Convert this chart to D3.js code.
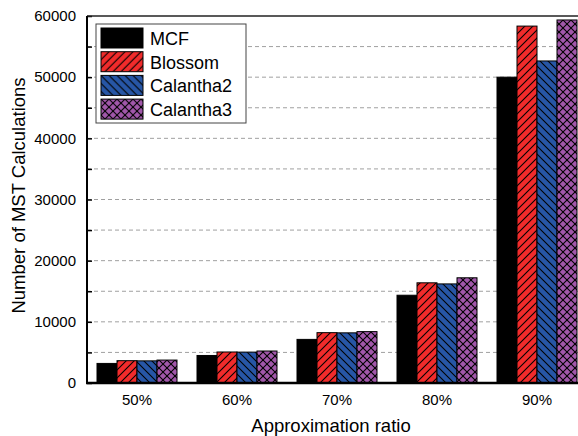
<!DOCTYPE html>
<html>
<head>
<meta charset="utf-8">
<script src="https://cdn.jsdelivr.net/npm/d3@7"></script>
<style>
  body { margin: 0; background: #fff; }
  text { font-family: Arial, "Liberation Sans", sans-serif; fill: #000; }
</style>
</head>
<body>
<div id="plotdiv"></div>
<script>
// Size of the figure
var outerWidth = 578;
var outerHeight = 436;
// Plot area runs past the right edge, like the original
var margin = { left: 87, top: 16, right: -9, bottom: 53 };
var innerWidth  = outerWidth  - margin.left - margin.right;
var innerHeight = outerHeight - margin.top  - margin.bottom;
var fontStack = "Arial, 'Liberation Sans', sans-serif";

// Data
var ratios = ["50%", "60%", "70%", "80%", "90%"];
var seriesNames = ["MCF", "Blossom", "Calantha2", "Calantha3"];
var mcf       = [3200, 4500, 7130, 14350, 50000];
var blossom   = [3650, 5070, 8230, 16380, 58350];
var calantha2 = [3620, 5050, 8200, 16200, 52650];
var calantha3 = [3750, 5230, 8400, 17200, 59350];
var yTicks = [0, 10000, 20000, 30000, 40000, 50000, 60000];
var yMinor = [5000, 15000, 25000, 35000, 45000, 55000];

var allSeries = [mcf, blossom, calantha2, calantha3];
var fills = ["#000000", "url(#hatchRed)", "url(#hatchBlue)", "url(#hatchPurple)"];

var vis = d3.select("#plotdiv").append("svg")
  .attr("width", outerWidth)
  .attr("height", outerHeight);

// Hatch patterns
var defs = vis.append("defs");
function addPattern(id, colour, paths) {
  var p = defs.append("pattern")
    .attr("id", id)
    .attr("patternUnits", "userSpaceOnUse")
    .attr("width", 8).attr("height", 8);
  p.append("rect").attr("width", 8).attr("height", 8).attr("fill", colour);
  paths.forEach(function(d) {
    p.append("path").attr("d", d).attr("stroke", "#000").attr("stroke-width", 1.1).attr("fill", "none");
  });
}
addPattern("hatchRed", "#f12b2b", ["M-2,2 L2,-2", "M0,8 L8,0", "M6,10 L10,6"]);
addPattern("hatchBlue", "#2756a6", ["M-2,6 L2,10", "M0,0 L8,8", "M6,-2 L10,2"]);
addPattern("hatchPurple", "#a157aa", ["M-2,2 L2,-2", "M0,8 L8,0", "M6,10 L10,6", "M-2,6 L2,10", "M0,0 L8,8", "M6,-2 L10,2"]);

var g = vis.append("g")
  .attr("transform", "translate(" + margin.left + "," + margin.top + ")");

// Scales
var xScale = d3.scaleBand()
  .domain(ratios)
  .range([0, innerWidth])
  .paddingInner(0.2)
  .paddingOuter(0.1);
var xSub = d3.scaleBand()
  .domain(d3.range(seriesNames.length))
  .range([0, xScale.bandwidth()]);
var yScale = d3.scaleLinear()
  .domain([0, 60000])
  .range([innerHeight, 0]);

// Dashed gridlines at every 5000
g.selectAll(".grid").data(yMinor.concat(yTicks.slice(1, -1))).enter().append("line")
  .attr("x1", 0).attr("x2", innerWidth)
  .attr("y1", function(d) { return yScale(d); })
  .attr("y2", function(d) { return yScale(d); })
  .attr("stroke", "#a0a0a0")
  .attr("stroke-width", 1)
  .attr("stroke-dasharray", "4,3");

// Bars
allSeries.forEach(function(vals, s) {
  g.append("g").selectAll("rect").data(vals).enter().append("rect")
    .attr("x", function(d, i) { return xScale(ratios[i]) + xSub(s); })
    .attr("y", function(d) { return yScale(d); })
    .attr("width", xSub.bandwidth())
    .attr("height", function(d) { return innerHeight - yScale(d); })
    .attr("fill", fills[s])
    .attr("stroke", "#000")
    .attr("stroke-width", 1);
});

// Axes
var axisX = d3.axisBottom(xScale).tickSize(0).tickPadding(11);
var axisY = d3.axisLeft(yScale).tickValues(yTicks).tickSize(-5).tickPadding(11).tickFormat(d3.format("d"));
var axisYMinor = d3.axisLeft(yScale).tickValues(yMinor).tickSize(-5).tickFormat("");

var gX = g.append("g")
  .attr("transform", "translate(0," + innerHeight + ")")
  .call(axisX);
gX.select(".domain").remove();
gX.selectAll("text").style("font-size", "15px").style("font-family", fontStack);

var gY = g.append("g").call(axisY);
gY.select(".domain").remove();
gY.selectAll("line").attr("stroke-width", 1.5);
gY.selectAll("text").style("font-size", "15px").style("font-family", fontStack);
var gYm = g.append("g").call(axisYMinor);
gYm.select(".domain").remove();
gYm.selectAll("line").attr("stroke-width", 1.5);

// Frame
g.append("line").attr("x1", 0).attr("x2", innerWidth).attr("y1", 0).attr("y2", 0)
  .attr("stroke", "#222").attr("stroke-width", 1.5);
g.append("line").attr("x1", 0).attr("x2", 0).attr("y1", 0).attr("y2", innerHeight)
  .attr("stroke", "#000").attr("stroke-width", 2);
g.append("line").attr("x1", -1).attr("x2", innerWidth).attr("y1", innerHeight).attr("y2", innerHeight)
  .attr("stroke", "#000").attr("stroke-width", 2.5);

// Axis labels
vis.append("text")
  .attr("x", 331)
  .attr("y", 432)
  .attr("text-anchor", "middle")
  .style("font-size", "18.5px")
  .text("Approximation ratio");
vis.append("text")
  .attr("transform", "translate(25," + (margin.top + innerHeight / 2 - 4) + ") rotate(-90)")
  .attr("text-anchor", "middle")
  .style("font-size", "18.5px")
  .text("Number of MST Calculations");

// Legend
var gLegend = vis.append("g").attr("transform", "translate(96,24)");
gLegend.append("rect")
  .attr("width", 150).attr("height", 99)
  .attr("fill", "#fff").attr("stroke", "#444").attr("stroke-width", 1);
var rows = gLegend.selectAll(".row").data(seriesNames).enter().append("g")
  .attr("transform", function(d, i) { return "translate(5," + (4 + i * 23.7) + ")"; });
rows.append("rect")
  .attr("width", 42).attr("height", 20)
  .attr("fill", function(d, i) { return fills[i]; })
  .attr("stroke", "#000").attr("stroke-width", 1);
rows.append("text")
  .attr("x", 49).attr("y", 17)
  .style("font-size", "18px")
  .text(function(d) { return d; });
</script>
</body>
</html>
